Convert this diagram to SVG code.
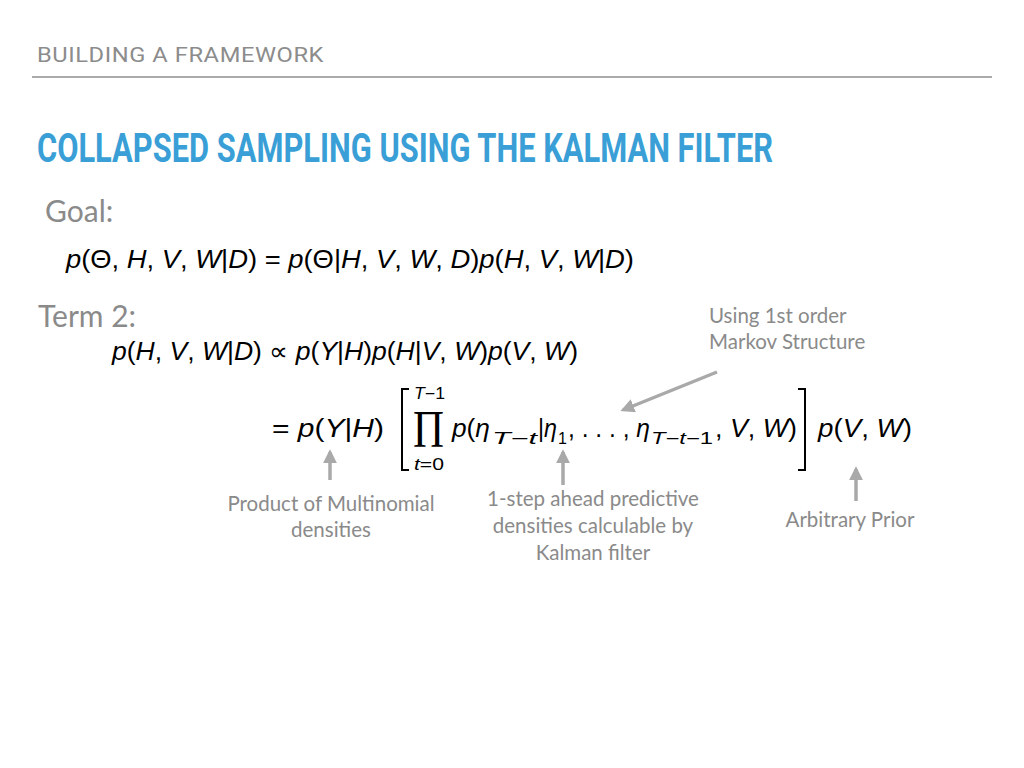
<svg xmlns="http://www.w3.org/2000/svg" width="1024" height="768" viewBox="0 0 1024 768">
<style>
.hdr{font-family:"Roboto","Liberation Sans",sans-serif;font-size:21px;fill:#8c8c8c;letter-spacing:0.5px}
.ttl{font-family:"Liberation Sans Narrow","Roboto","Liberation Sans",sans-serif;font-weight:bold;font-size:40px;fill:#3a9fd6}
.lbl{font-family:"Lato","Noto Sans",sans-serif;font-size:30px;fill:#8a8a8a}
.note{font-family:"Lato","Noto Sans",sans-serif;font-size:20.5px;fill:#8a8a8a}
.m{font-family:"Liberation Sans",Arial,sans-serif;font-size:25px;fill:#000}
.s{font-family:"Liberation Sans",Arial,sans-serif;font-size:16px;fill:#000}
.i{font-style:italic}
.n{font-style:normal}
.br{fill:none;stroke:#000;stroke-width:2}
.ar{fill:none;stroke:#a9a9a9;stroke-width:3.5}
</style>
<defs>
<marker id="ah" viewBox="0 0 10 10" refX="8" refY="5" markerWidth="4" markerHeight="4" orient="auto" markerUnits="strokeWidth">
<path d="M0,0 L10,5 L0,10 Z" fill="#a9a9a9"/>
</marker>
</defs>
<rect width="1024" height="768" fill="#fff"/>
<g id="header">
<text class="hdr" x="37" y="62" textLength="287" lengthAdjust="spacingAndGlyphs">BUILDING A FRAMEWORK</text>
<line x1="32" y1="77" x2="992" y2="77" stroke="#aaaaaa" stroke-width="2"/>
</g>
<g id="title">
<text class="ttl" x="37" y="162" textLength="736" lengthAdjust="spacingAndGlyphs">COLLAPSED SAMPLING USING THE KALMAN FILTER</text>
</g>
<g id="goal">
<text class="lbl" x="45" y="222">Goal:</text>
<text class="m" x="66" y="268" textLength="568" lengthAdjust="spacingAndGlyphs"><tspan class="i">p</tspan>(Θ, <tspan class="i">H</tspan>, <tspan class="i">V</tspan>, <tspan class="i">W</tspan>|<tspan class="i">D</tspan>) = <tspan class="i">p</tspan>(Θ|<tspan class="i">H</tspan>, <tspan class="i">V</tspan>, <tspan class="i">W</tspan>, <tspan class="i">D</tspan>)<tspan class="i">p</tspan>(<tspan class="i">H</tspan>, <tspan class="i">V</tspan>, <tspan class="i">W</tspan>|<tspan class="i">D</tspan>)</text>
</g>
<g id="term2">
<text class="lbl" x="38" y="327">Term 2:</text>
<text class="m" x="112" y="360" textLength="466" lengthAdjust="spacingAndGlyphs"><tspan class="i">p</tspan>(<tspan class="i">H</tspan>, <tspan class="i">V</tspan>, <tspan class="i">W</tspan>|<tspan class="i">D</tspan>) ∝ <tspan class="i">p</tspan>(<tspan class="i">Y</tspan>|<tspan class="i">H</tspan>)<tspan class="i">p</tspan>(<tspan class="i">H</tspan>|<tspan class="i">V</tspan>, <tspan class="i">W</tspan>)<tspan class="i">p</tspan>(<tspan class="i">V</tspan>, <tspan class="i">W</tspan>)</text>
</g>
<g id="expansion">
<text class="m" x="272" y="437" textLength="112" lengthAdjust="spacingAndGlyphs">= <tspan class="i">p</tspan>(<tspan class="i">Y</tspan>|<tspan class="i">H</tspan>)</text>
<path class="br" d="M409,389 H402 V470 H409"/>
<text class="s i" x="414" y="399" textLength="31" lengthAdjust="spacingAndGlyphs">T<tspan class="n">−1</tspan></text>
<text x="413" y="447" font-family="Liberation Serif,serif" font-size="52" textLength="31" lengthAdjust="spacingAndGlyphs">Π</text>
<text class="s" x="414" y="470" textLength="30" lengthAdjust="spacingAndGlyphs"><tspan class="i">t</tspan>=0</text>
<text class="m" x="452" y="437" textLength="38" lengthAdjust="spacingAndGlyphs"><tspan class="i">p</tspan>(<tspan class="i">η</tspan></text>
<text class="s i" x="492" y="444" textLength="45" lengthAdjust="spacingAndGlyphs">T<tspan class="n">−</tspan>t</text>
<text class="m" x="538" y="437" textLength="19" lengthAdjust="spacingAndGlyphs">|<tspan class="i">η</tspan></text>
<text class="s" x="558" y="444">1</text>
<text class="m" x="568" y="437" textLength="82" lengthAdjust="spacingAndGlyphs">, . . . , <tspan class="i">η</tspan></text>
<text class="s i" x="651" y="444" textLength="62" lengthAdjust="spacingAndGlyphs">T<tspan class="n">−</tspan>t<tspan class="n">−1</tspan></text>
<text class="m" x="715" y="437" textLength="82" lengthAdjust="spacingAndGlyphs">, <tspan class="i">V</tspan>, <tspan class="i">W</tspan>)</text>
<path class="br" d="M798,389 H805 V470 H798"/>
<text class="m" x="818" y="437" textLength="94" lengthAdjust="spacingAndGlyphs"><tspan class="i">p</tspan>(<tspan class="i">V</tspan>, <tspan class="i">W</tspan>)</text>
</g>
<g id="connectors">
<line class="ar" x1="330" y1="480" x2="330" y2="452" marker-end="url(#ah)"/>
<line class="ar" x1="563" y1="485" x2="563" y2="452" marker-end="url(#ah)"/>
<line class="ar" x1="856" y1="501" x2="856" y2="469" marker-end="url(#ah)"/>
<line class="ar" x1="717" y1="372" x2="623" y2="410" marker-end="url(#ah)"/>
</g>
<g id="note-multinomial">
<text class="note" text-anchor="middle" x="331" y="511">Product of Multinomial</text>
<text class="note" text-anchor="middle" x="331" y="537">densities</text>
</g>
<g id="note-kalman">
<text class="note" text-anchor="middle" x="593" y="506">1-step ahead predictive</text>
<text class="note" text-anchor="middle" x="593" y="533">densities calculable by</text>
<text class="note" text-anchor="middle" x="593" y="560">Kalman filter</text>
</g>
<g id="note-prior">
<text class="note" text-anchor="middle" x="850" y="527">Arbitrary Prior</text>
</g>
<g id="note-markov">
<text class="note" x="709" y="323">Using 1st order</text>
<text class="note" x="709" y="349">Markov Structure</text>
</g>
</svg>
